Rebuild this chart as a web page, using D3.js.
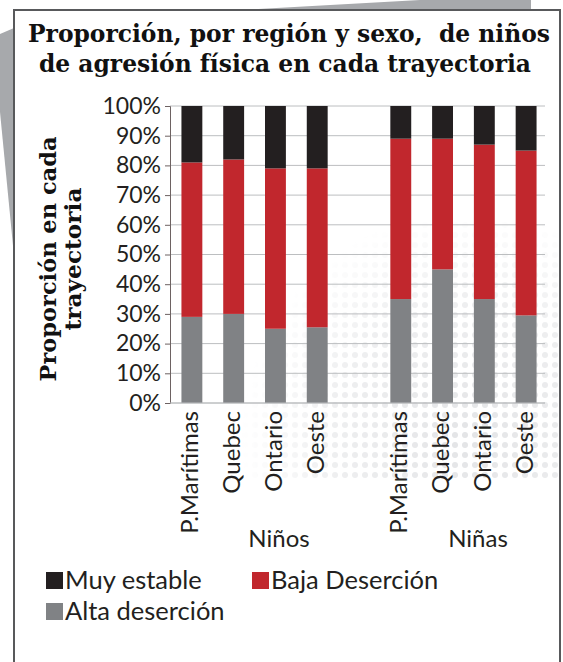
<!DOCTYPE html>
<html>

<head>
    <meta charset="utf-8">
    <style>
        body {
            margin: 0;
            background: white;
        }

        svg {
            display: block;
        }

        .sans {
            font-family: Lato, 'Open Sans', sans-serif;
        }

        .serif {
            font-family: 'DejaVu Serif', 'Liberation Serif', serif;
            font-weight: bold;
        }
    </style>
</head>

<body>
    <svg width="563" height="662"></svg>
</body>

<script src="https://d3js.org/d3.v7.min.js"></script>

<script>
    // data (percent of children per trajectory)
    let regions = ["P.Marítimas", "Quebec", "Ontario", "Oeste"]
    let groups = ["Niños", "Niñas"]
    let altaDesercion = [29, 30, 25, 25.5, 35, 45, 35, 29.5]
    let bajaDesercion = [52, 52, 54, 53.5, 54, 44, 52, 55.5]
    let muyEstable = [19, 18, 21, 21, 11, 11, 13, 15]
    let yTicks = [0, 10, 20, 30, 40, 50, 60, 70, 80, 90, 100]

    let series = [
        { key: "alta", label: "Alta deserción", color: "#808285" },
        { key: "baja", label: "Baja Deserción", color: "#c1272d" },
        { key: "muy", label: "Muy estable", color: "#231f20" }
    ]

    // build rows, with an empty slot between the two groups
    let rows = []
    let domain = []
    groups.forEach((g, gi) => {
        regions.forEach((r, ri) => {
            let i = gi * regions.length + ri
            let id = g + "|" + r
            domain.push(id)
            rows.push({ id: id, region: r, group: g, alta: altaDesercion[i], baja: bajaDesercion[i], muy: muyEstable[i] })
        })
        if (gi == 0) domain.push("gap")
    })

    let svg = d3.select("svg")

    // faint halftone dots in the background
    let defs = svg.append("defs")
    let pat = defs.append("pattern")
        .attr("id", "dots")
        .attr("width", 10).attr("height", 10)
        .attr("patternUnits", "userSpaceOnUse")
    pat.append("circle").attr("cx", 5).attr("cy", 5).attr("r", 3).style("fill", "#e3e4e6")
    let grad = defs.append("radialGradient")
        .attr("id", "fade")
        .attr("gradientUnits", "userSpaceOnUse")
        .attr("cx", 470).attr("cy", 440).attr("r", 230)
    grad.append("stop").attr("offset", 0).attr("stop-color", "white").attr("stop-opacity", 1)
    grad.append("stop").attr("offset", 0.6).attr("stop-color", "white").attr("stop-opacity", 0.6)
    grad.append("stop").attr("offset", 1).attr("stop-color", "white").attr("stop-opacity", 0)
    defs.append("mask").attr("id", "dotmask")
        .append("rect")
        .attr("x", 230).attr("y", 220).attr("width", 330).attr("height", 260)
        .style("fill", "url(#fade)")

    // grey paper behind the card
    svg.append("polygon")
        .attr("points", "0,34 14,28 14,256 0,112")
        .style("fill", "#a7a9ac")
    svg.append("polygon")
        .attr("points", "225,11 420,0 531,0 531,11")
        .style("fill", "#a7a9ac")

    // white card
    svg.append("rect")
        .attr("x", 14)
        .attr("y", 10)
        .attr("width", 546)
        .attr("height", 670)
        .style("fill", "white")
        .style("stroke", "#58595b")
        .style("stroke-width", 2)

    svg.append("rect")
        .attr("x", 230).attr("y", 220).attr("width", 328).attr("height", 260)
        .attr("mask", "url(#dotmask)")
        .style("fill", "url(#dots)")

    // title
    let title = svg.append("g").attr("class", "serif")
        .style("font-size", "24px")
        .style("fill", "#111")
    title.append("text")
        .attr("x", 289).attr("y", 42)
        .attr("text-anchor", "middle")
        .style("white-space", "pre")
        .attr("textLength", 522)
        .attr("lengthAdjust", "spacingAndGlyphs")
        .text("Proporción, por región y sexo,  de niños")
    title.append("text")
        .attr("x", 285).attr("y", 72)
        .attr("text-anchor", "middle")
        .attr("textLength", 492)
        .attr("lengthAdjust", "spacingAndGlyphs")
        .text("de agresión física en cada trayectoria")

    let x = d3.scaleBand()
        .domain(domain)
        .range([171, 547])
        .paddingInner(0.5)
        .paddingOuter(0.25)

    let y = d3.scaleLinear()
        .domain([0, 100])
        .range([403, 106])

    // gridlines
    svg.append("g")
        .selectAll("line")
        .data(yTicks)
        .join("line")
        .attr("x1", 170)
        .attr("x2", 545)
        .attr("y1", d => y(d))
        .attr("y2", d => y(d))
        .style("stroke", "#bcbec0")
        .style("stroke-width", 1)

    // y axis
    let yAxis = svg.append("g")
        .attr("transform", "translate(170,0)")
        .call(d3.axisLeft(y).tickValues(yTicks).tickSize(5).tickPadding(4).tickFormat(d => d + "%"))
    yAxis.select(".domain").style("stroke", "#6d6262")
    yAxis.selectAll(".tick line").style("stroke", "#6d6262")
    yAxis.selectAll("text")
        .attr("class", "sans")
        .style("font-size", "23px")
        .style("fill", "#231f20")

    // stacked bars
    let stacked = d3.stack().keys(series.map(s => s.key))(rows)

    svg.append("g")
        .selectAll("g")
        .data(stacked)
        .join("g")
        .style("fill", (d, i) => series[i].color)
        .selectAll("rect")
        .data(d => d)
        .join("rect")
        .attr("x", d => x(d.data.id))
        .attr("width", x.bandwidth())
        .attr("y", d => y(d[1]))
        .attr("height", d => y(d[0]) - y(d[1]))

    // x axis line
    svg.append("line")
        .attr("x1", 170).attr("x2", 545)
        .attr("y1", y(0)).attr("y2", y(0))
        .style("stroke", "#bcbec0")

    // region labels (rotated)
    svg.append("g")
        .selectAll("text")
        .data(rows)
        .join("text")
        .attr("class", "sans")
        .attr("transform", d => "translate(" + (x(d.id) + x.bandwidth() / 2 - 2) + "," + 411 + ") rotate(-90)")
        .attr("text-anchor", "end")
        .attr("dy", "0.35em")
        .style("font-size", "24px")
        .style("fill", "#231f20")
        .text(d => d.region)

    // group labels
    let groupX = { "Niños": 279, "Niñas": 478 }
    svg.append("g")
        .selectAll("text")
        .data(groups)
        .join("text")
        .attr("class", "sans")
        .attr("x", d => groupX[d])
        .attr("y", 547)
        .attr("text-anchor", "middle")
        .style("font-size", "24px")
        .style("fill", "#231f20")
        .text(d => d)

    // y axis title
    let yTitle = svg.append("text")
        .attr("class", "serif")
        .attr("transform", "translate(56,259) rotate(-90)")
        .attr("text-anchor", "middle")
        .style("font-size", "23px")
        .style("fill", "#111")
    yTitle.append("tspan").attr("x", 0).attr("y", 0)
        .attr("textLength", 245).attr("lengthAdjust", "spacingAndGlyphs")
        .text("Proporción en cada")
    yTitle.append("tspan").attr("x", 0).attr("y", 25)
        .attr("textLength", 143).attr("lengthAdjust", "spacingAndGlyphs")
        .text("trayectoria")

    // legend
    let legendItems = [
        { s: series[2], x: 46, y: 572 },
        { s: series[1], x: 252, y: 572 },
        { s: series[0], x: 46, y: 603 }
    ]
    let legend = svg.append("g")
        .selectAll("g")
        .data(legendItems)
        .join("g")
        .attr("transform", d => "translate(" + d.x + "," + d.y + ")")
    legend.append("rect")
        .attr("width", 17)
        .attr("height", 17)
        .style("fill", d => d.s.color)
    legend.append("text")
        .attr("class", "sans")
        .attr("x", 19)
        .attr("y", 17)
        .style("font-size", "25.5px")
        .style("fill", "#231f20")
        .text(d => d.s.label)

</script>

</html>
